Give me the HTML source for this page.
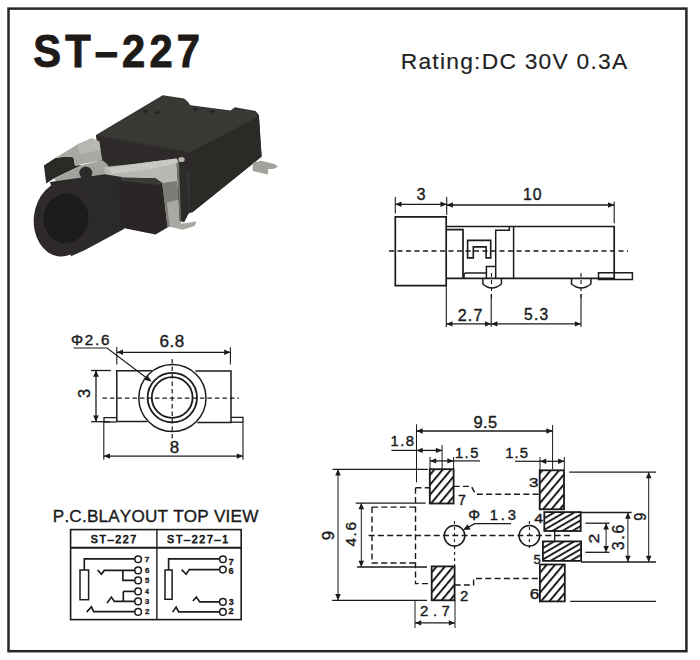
<!DOCTYPE html>
<html><head><meta charset="utf-8"><title>ST-227</title>
<style>
html,body{margin:0;padding:0;background:#fff;width:700px;height:660px;overflow:hidden}
svg{display:block;position:absolute;left:0;top:0}
text{font-family:"Liberation Sans",sans-serif;font-kerning:none;white-space:pre}
</style></head><body>
<svg width="700" height="660" viewBox="0 0 700 660">
<defs>
<filter id="soft" x="-5%" y="-5%" width="110%" height="110%"><feGaussianBlur stdDeviation="0.7"/></filter>
<pattern id="hatch" patternUnits="userSpaceOnUse" width="6.4" height="6.4" patternTransform="rotate(-50)">
<rect x="0" y="0" width="6.4" height="2" fill="#1b1b1b"/>
</pattern>
<pattern id="hatch2" patternUnits="userSpaceOnUse" width="5" height="5" patternTransform="rotate(-30)">
<rect x="0" y="0" width="5" height="1.9" fill="#1b1b1b"/>
</pattern>
</defs>
<rect x="8.5" y="8.6" width="677.9" height="642.6" fill="none" stroke="#2a2624" stroke-width="2.5"/>
<text transform="translate(33.3,66.5) scale(0.9000,1)" x="0" y="0" font-size="46.26" font-weight="bold" letter-spacing="4.62" fill="#1e1a18" stroke="#1e1a18" stroke-width="1.0" >ST–227</text>
<text transform="translate(400.73,69.1) scale(1.0000,1)" x="0" y="0" font-size="22.82" font-weight="normal" letter-spacing="1.24" fill="#222" stroke="#222" stroke-width="0.15" >Rating:DC 30V 0.3A</text>
<g filter="url(#soft)">
<polygon points="96,135 162.7,95.3 184,98.6 188,102 190.3,105.2 230.6,110.5 234.9,107.3 255.5,110.9 258.9,115 261.6,156.6 192.4,212.3 186,214 182,175 130,175 100,165" fill="#333130" />
<polygon points="190,153 258.9,117 261.6,156.6 192.4,212.3 190,212" fill="#2b2928" />
<polygon points="96,136 190,153 190,172 103,163" fill="#2e2c2b" />
<polygon points="98,135 162.7,96.3 184,99.6 190.3,106.2 230.6,111.5 234.9,108.3 255,111.9 257.5,116.5 190,152" fill="#393736" />
<polygon points="143,111 147,110 148,112 144,113" fill="#222020" />
<polygon points="155,112 159,111 160,113 156,114" fill="#222020" />
<polygon points="193,109 197,108 198,110 194,111" fill="#222020" />
<polygon points="210,111 214,110 215,112 211,113" fill="#222020" />
<polygon points="43.9,165.6 55.3,158 66,156.5 73.5,157.3 75,165.6 82,165 53.8,178.5 46.2,183.5" fill="#2b2928" />
<polygon points="55.3,158 77.3,144.4 91.7,138.3 99.2,141.4 102.3,160.3 75,165.6 73.5,157.3 66,156.5" fill="#a9a9a4" />
<polygon points="77.3,144.4 91.7,138.3 99.2,141.4 100.5,150 80,154" fill="#b8b8b3" />
<polygon points="53.8,178.5 82,165 102.3,160.3 106,163 110,168 108,175 60,186" fill="#a3a39e" />
<polygon points="104,167 134.2,163.9 176.7,158.6 178.9,163.2 177,182 164.5,186 162.3,182.9 155.5,178.3 119.1,177.6 106,178" fill="#b9b9b4" />
<polygon points="108,168 134.2,163.9 176.7,158.6 178,163 150,169 112,174" fill="#c9c9c4" />
<polygon points="162.3,182.9 177,181 179.7,199.5 181.2,223.8 169.8,226.8 167.6,227.6" fill="#7d7d78" />
<polygon points="166.8,202.6 179.7,199.5 181.2,223.8 196.4,221.5 194.8,226.1 182.7,229.8 169.8,226.8" fill="#a9a9a4" />
<polygon points="50,182 104.8,174.3 122,177 124,229 85,250 71,256.3" fill="#2c2a2a" />
<ellipse cx="62.8" cy="219" rx="29" ry="37.6" transform="rotate(6 62.8 219)" fill="#2e2c2b"/>
<ellipse cx="66" cy="218.5" rx="22.5" ry="25" transform="rotate(6 66 218.5)" fill="#1b1a1a"/>
<ellipse cx="85.8" cy="172.8" rx="6.5" ry="6.2" fill="#2c2a29"/>
<polygon points="119.1,177.6 155.5,178.3 162.3,182.9 167.6,227.6 155.5,234.4 120.6,227.6" fill="#2a2827" />
<polygon points="119.1,177.6 155.5,178.3 162.3,182.9 160,185 122,181" fill="#3a3837" />
<polygon points="176.7,163.2 185,158.6 188.8,213.2 184.2,222.3 179.7,220.8" fill="#2d2b2a" />
<polygon points="176.7,163.2 179,162 181,220 179.7,220.8" fill="#6e6e6a" />
<ellipse cx="181.5" cy="159.5" rx="3.2" ry="2.6" fill="#b5b5b0"/>
<polygon points="252.7,162.8 260.9,160.7 274.6,164.1 278,166.8 273.2,168.9 268.4,168.9 267.7,174.4 252.7,170.9" fill="#a3a39e" />
</g>
<path d="M395.3,285.6 V216.9 H446.2 V285.6 Z" fill="none" stroke="#1b1b1b" stroke-width="1.7" />
<path d="M446.2,226.5 H614.2 V278.4 H446.2" fill="none" stroke="#1b1b1b" stroke-width="1.7" />
<path d="M446.2,229.7 H463 V278.2" fill="none" stroke="#1b1b1b" stroke-width="1.7" />
<line x1="513.6" y1="226.5" x2="513.6" y2="278.4" stroke="#1b1b1b" stroke-width="1.5"/>
<path d="M495.7,278.4 V230.3 H509.3 V226.5" fill="none" stroke="#1b1b1b" stroke-width="1.5" />
<path d="M486.4,278.4 V266.4 H495.7" fill="none" stroke="#1b1b1b" stroke-width="1.5" />
<path d="M486.4,272.9 H466 Q464,272.9 464,275 V278.4" fill="none" stroke="#1b1b1b" stroke-width="1.5" />
<path d="M467.6,257.9 V240.4 H490.7 V257.9 H486.1 V246.9 H473.3 V257.9 Z" fill="none" stroke="#1b1b1b" stroke-width="1.6" />
<path d="M598.5,279.6 V272.7 H632.4 V279.6 Z" fill="none" stroke="#1b1b1b" stroke-width="1.5" />
<path d="M482.9,278.4 V284 Q491.7,292 501.4,284 V278.4" fill="none" stroke="#1b1b1b" stroke-width="1.5" />
<path d="M571.5,278.4 V284 Q581,292 590.9,284 V278.4" fill="none" stroke="#1b1b1b" stroke-width="1.5" />
<line x1="389" y1="251" x2="628" y2="251" stroke="#1b1b1b" stroke-width="1.5" stroke-dasharray="5,3.5"/>
<line x1="491.5" y1="273" x2="491.5" y2="300" stroke="#1b1b1b" stroke-width="1.1" stroke-dasharray="4,3"/>
<line x1="581" y1="273" x2="581" y2="300" stroke="#1b1b1b" stroke-width="1.1" stroke-dasharray="4,3"/>
<line x1="395.3" y1="197" x2="395.3" y2="213.6" stroke="#1b1b1b" stroke-width="1.1"/>
<line x1="446.7" y1="197" x2="446.7" y2="215" stroke="#1b1b1b" stroke-width="1.1"/>
<line x1="614.2" y1="201.5" x2="614.2" y2="223.3" stroke="#1b1b1b" stroke-width="1.1"/>
<line x1="395.3" y1="204.3" x2="446.7" y2="204.3" stroke="#1b1b1b" stroke-width="1.3"/>
<polygon points="395.3,204.3 401.5,201.6 401.5,207" fill="#1b1b1b"/>
<polygon points="446.7,204.3 440.5,201.6 440.5,207" fill="#1b1b1b"/>
<line x1="446.7" y1="205" x2="614.2" y2="205" stroke="#1b1b1b" stroke-width="1.3"/>
<polygon points="446.7,205 452.9,202.3 452.9,207.7" fill="#1b1b1b"/>
<polygon points="614.2,205 608,202.3 608,207.7" fill="#1b1b1b"/>
<text transform="translate(416.8,199.5) scale(1.0000,1)" x="0" y="0" font-size="15.75" font-weight="normal" letter-spacing="0" fill="#1b1b1b" stroke="#1b1b1b" stroke-width="0.4" >3</text>
<text transform="translate(523.1,199.5) scale(1.0000,1)" x="0" y="0" font-size="15.75" font-weight="normal" letter-spacing="0.79" fill="#1b1b1b" stroke="#1b1b1b" stroke-width="0.4" >10</text>
<line x1="446.3" y1="285.6" x2="446.3" y2="327" stroke="#1b1b1b" stroke-width="1.1"/>
<line x1="491.2" y1="294" x2="491.2" y2="327" stroke="#1b1b1b" stroke-width="1.1"/>
<line x1="581" y1="294" x2="581" y2="327" stroke="#1b1b1b" stroke-width="1.1"/>
<line x1="446.3" y1="323.9" x2="491.2" y2="323.9" stroke="#1b1b1b" stroke-width="1.3"/>
<polygon points="446.3,323.9 452.5,321.2 452.5,326.6" fill="#1b1b1b"/>
<polygon points="491.2,323.9 485,321.2 485,326.6" fill="#1b1b1b"/>
<line x1="491.2" y1="323.9" x2="581" y2="323.9" stroke="#1b1b1b" stroke-width="1.3"/>
<polygon points="491.2,323.9 497.4,321.2 497.4,326.6" fill="#1b1b1b"/>
<polygon points="581,323.9 574.8,321.2 574.8,326.6" fill="#1b1b1b"/>
<text transform="translate(457.69,320.5) scale(1.0000,1)" x="0" y="0" font-size="16.04" font-weight="normal" letter-spacing="1.26" fill="#1b1b1b" stroke="#1b1b1b" stroke-width="0.4" >2.7</text>
<text transform="translate(524.07,319.6) scale(1.0000,1)" x="0" y="0" font-size="15.61" font-weight="normal" letter-spacing="1.16" fill="#1b1b1b" stroke="#1b1b1b" stroke-width="0.4" >5.3</text>
<path d="M116.8,421.5 V370.8 H151.8" fill="none" stroke="#1b1b1b" stroke-width="1.5" />
<path d="M195.4,371.1 H231 V422.6 H197.3" fill="none" stroke="#1b1b1b" stroke-width="1.5" />
<line x1="116.8" y1="421.5" x2="147" y2="421.5" stroke="#1b1b1b" stroke-width="1.5"/>
<path d="M104,422 V417.7 H116.8" fill="none" stroke="#1b1b1b" stroke-width="1.3" />
<line x1="104" y1="422" x2="116.8" y2="422" stroke="#1b1b1b" stroke-width="1.3"/>
<path d="M243,422.2 V417.3 H231" fill="none" stroke="#1b1b1b" stroke-width="1.3" />
<line x1="231" y1="422.2" x2="243" y2="422.2" stroke="#1b1b1b" stroke-width="1.3"/>
<circle cx="172.4" cy="398" r="33.6" fill="none" stroke="#1b1b1b" stroke-width="1.5"/>
<circle cx="172.3" cy="397.6" r="24.7" fill="none" stroke="#1b1b1b" stroke-width="1.8"/>
<circle cx="172.2" cy="397.5" r="20.4" fill="none" stroke="#1b1b1b" stroke-width="1.8"/>
<line x1="102.4" y1="398.2" x2="239" y2="398.2" stroke="#1b1b1b" stroke-width="1.2" stroke-dasharray="4.5,3"/>
<line x1="172.2" y1="359" x2="172.2" y2="440" stroke="#1b1b1b" stroke-width="1.2" stroke-dasharray="4.5,3"/>
<path d="M73.6,348 H107 L150,380.5" fill="none" stroke="#1b1b1b" stroke-width="1.2" />
<polygon points="151.7,381.8 144.55,379.65 147.68,375.5" fill="#1b1b1b"/>
<text transform="translate(70.93,345.1) scale(1.0000,1)" x="0" y="0" font-size="15.18" font-weight="normal" letter-spacing="1.77" fill="#1b1b1b" stroke="#1b1b1b" stroke-width="0.4" >Φ2.6</text>
<line x1="116.8" y1="347" x2="116.8" y2="364.4" stroke="#1b1b1b" stroke-width="1.1"/>
<line x1="230.4" y1="347.3" x2="230.4" y2="364.5" stroke="#1b1b1b" stroke-width="1.1"/>
<line x1="116.8" y1="352.3" x2="230.4" y2="352.3" stroke="#1b1b1b" stroke-width="1.3"/>
<polygon points="116.8,352.3 123,349.6 123,355" fill="#1b1b1b"/>
<polygon points="230.4,352.3 224.2,349.6 224.2,355" fill="#1b1b1b"/>
<text transform="translate(159.43,346.8) scale(1.0000,1)" x="0" y="0" font-size="17.04" font-weight="normal" letter-spacing="0.51" fill="#1b1b1b" stroke="#1b1b1b" stroke-width="0.4" >6.8</text>
<line x1="91" y1="370.5" x2="110.8" y2="370.5" stroke="#1b1b1b" stroke-width="1.3"/>
<line x1="91" y1="421.7" x2="110" y2="421.7" stroke="#1b1b1b" stroke-width="1.3"/>
<line x1="96" y1="370.5" x2="96" y2="421.7" stroke="#1b1b1b" stroke-width="1.3"/>
<polygon points="96,370.5 93.2,376.7 98.8,376.7" fill="#1b1b1b"/>
<polygon points="96,421.7 93.2,415.5 98.8,415.5" fill="#1b1b1b"/>
<text transform="translate(89.7,397.93) rotate(-90) scale(1.0349,1)" x="0" y="0" font-size="15.9" font-weight="normal" letter-spacing="0" fill="#1b1b1b" stroke="#1b1b1b" stroke-width="0.4" >3</text>
<line x1="103.8" y1="422" x2="103.8" y2="459.8" stroke="#1b1b1b" stroke-width="1.1"/>
<line x1="243" y1="422" x2="243" y2="459.8" stroke="#1b1b1b" stroke-width="1.1"/>
<line x1="103.8" y1="456.1" x2="243" y2="456.1" stroke="#1b1b1b" stroke-width="1.3"/>
<polygon points="103.8,456.1 110,453.4 110,458.8" fill="#1b1b1b"/>
<polygon points="243,456.1 236.8,453.4 236.8,458.8" fill="#1b1b1b"/>
<text transform="translate(169.67,453) scale(1.0000,1)" x="0" y="0" font-size="16.9" font-weight="normal" letter-spacing="0" fill="#1b1b1b" stroke="#1b1b1b" stroke-width="0.4" >8</text>
<text transform="translate(52.79,521.6) scale(1.0000,1)" x="0" y="0" font-size="17.15" font-weight="normal" letter-spacing="0.19" fill="#1b1b1b" stroke="#1b1b1b" stroke-width="0.35" >P.C.BLAYOUT TOP VIEW</text>
<rect x="70.6" y="529.6" width="170.6" height="90" fill="none" stroke="#1b1b1b" stroke-width="1.6"/>
<line x1="70.6" y1="547.7" x2="241.2" y2="547.7" stroke="#1b1b1b" stroke-width="2.0"/>
<line x1="156.9" y1="529.6" x2="156.9" y2="619.6" stroke="#1b1b1b" stroke-width="1.4"/>
<text transform="translate(90.82,543.4) scale(1.0000,1)" x="0" y="0" font-size="10.6" font-weight="normal" letter-spacing="1.64" fill="#1b1b1b" stroke="#1b1b1b" stroke-width="0.75" >ST–227</text>
<text transform="translate(167.12,543.4) scale(1.0000,1)" x="0" y="0" font-size="10.6" font-weight="normal" letter-spacing="1.73" fill="#1b1b1b" stroke="#1b1b1b" stroke-width="0.75" >ST–227–1</text>
<rect x="80" y="570" width="8.6" height="29.7" fill="none" stroke="#1b1b1b" stroke-width="1.5"/>
<path d="M84.3,570 V558.8 H135" fill="none" stroke="#1b1b1b" stroke-width="1.65" />
<path d="M97.6,570 L101.4,574.3 L104.3,570.4 H135" fill="none" stroke="#1b1b1b" stroke-width="1.65" />
<path d="M122.9,570.4 V580.4 H135" fill="none" stroke="#1b1b1b" stroke-width="1.65" />
<path d="M123.3,591.4 V601.4" fill="none" stroke="#1b1b1b" stroke-width="1.65" />
<path d="M123.3,591.4 H135" fill="none" stroke="#1b1b1b" stroke-width="1.65" />
<path d="M107.1,602.9 L111.4,597.1 L114.3,601.4 H135" fill="none" stroke="#1b1b1b" stroke-width="1.65" />
<path d="M86.7,612.1 L91.4,606.7 L93.6,611.6 H135" fill="none" stroke="#1b1b1b" stroke-width="1.65" />
<circle cx="138.1" cy="559.3" r="3.3" fill="#fff" stroke="#1b1b1b" stroke-width="1.5"/>
<text transform="translate(144.85,561.8) scale(1.1143,1)" x="0" y="0" font-size="7.27" font-weight="bold" letter-spacing="0" fill="#1b1b1b" stroke="#1b1b1b" stroke-width="0.3" >7</text>
<circle cx="138.1" cy="570.4" r="3.3" fill="#fff" stroke="#1b1b1b" stroke-width="1.5"/>
<text transform="translate(144.91,572.9) scale(1.0978,1)" x="0" y="0" font-size="7.16" font-weight="bold" letter-spacing="0" fill="#1b1b1b" stroke="#1b1b1b" stroke-width="0.3" >6</text>
<circle cx="138.1" cy="580.4" r="3.3" fill="#fff" stroke="#1b1b1b" stroke-width="1.5"/>
<text transform="translate(144.97,582.9) scale(1.0509,1)" x="0" y="0" font-size="7.27" font-weight="bold" letter-spacing="0" fill="#1b1b1b" stroke="#1b1b1b" stroke-width="0.3" >5</text>
<circle cx="138.1" cy="591.4" r="3.3" fill="#fff" stroke="#1b1b1b" stroke-width="1.5"/>
<text transform="translate(145.09,593.9) scale(0.9762,1)" x="0" y="0" font-size="7.27" font-weight="bold" letter-spacing="0" fill="#1b1b1b" stroke="#1b1b1b" stroke-width="0.3" >4</text>
<circle cx="138.1" cy="601.4" r="3.3" fill="#fff" stroke="#1b1b1b" stroke-width="1.5"/>
<text transform="translate(145.02,603.9) scale(1.0676,1)" x="0" y="0" font-size="7.16" font-weight="bold" letter-spacing="0" fill="#1b1b1b" stroke="#1b1b1b" stroke-width="0.3" >3</text>
<circle cx="138.1" cy="611.9" r="3.3" fill="#fff" stroke="#1b1b1b" stroke-width="1.5"/>
<text transform="translate(144.93,614.4) scale(1.1022,1)" x="0" y="0" font-size="7.16" font-weight="bold" letter-spacing="0" fill="#1b1b1b" stroke="#1b1b1b" stroke-width="0.3" >2</text>
<rect x="165" y="570" width="7.1" height="29.3" fill="none" stroke="#1b1b1b" stroke-width="1.5"/>
<path d="M168.6,570 V558.8 H220" fill="none" stroke="#1b1b1b" stroke-width="1.65" />
<path d="M181.7,569.6 L186.1,574.3 L189.3,569.6 H220" fill="none" stroke="#1b1b1b" stroke-width="1.65" />
<path d="M192.9,601 L196.4,597.1 L199.7,601.9 H220" fill="none" stroke="#1b1b1b" stroke-width="1.65" />
<path d="M172.6,612.1 L176.1,607.1 L178.6,611.9 H220" fill="none" stroke="#1b1b1b" stroke-width="1.65" />
<circle cx="222.9" cy="559.3" r="3.3" fill="#fff" stroke="#1b1b1b" stroke-width="1.5"/>
<text transform="translate(228.5,564.6) scale(1.0240,1)" x="0" y="0" font-size="9.16" font-weight="bold" letter-spacing="0" fill="#1b1b1b" stroke="#1b1b1b" stroke-width="0.3" >7</text>
<circle cx="222.9" cy="569.6" r="3.3" fill="#fff" stroke="#1b1b1b" stroke-width="1.5"/>
<text transform="translate(228.57,574.1) scale(1.0088,1)" x="0" y="0" font-size="9.02" font-weight="bold" letter-spacing="0" fill="#1b1b1b" stroke="#1b1b1b" stroke-width="0.3" >6</text>
<circle cx="222.9" cy="601.9" r="3.3" fill="#fff" stroke="#1b1b1b" stroke-width="1.5"/>
<text transform="translate(228.7,604.9) scale(0.9811,1)" x="0" y="0" font-size="9.02" font-weight="bold" letter-spacing="0" fill="#1b1b1b" stroke="#1b1b1b" stroke-width="0.3" >3</text>
<circle cx="222.9" cy="611.9" r="3.3" fill="#fff" stroke="#1b1b1b" stroke-width="1.5"/>
<text transform="translate(228.58,613.9) scale(1.1195,1)" x="0" y="0" font-size="8.16" font-weight="bold" letter-spacing="0" fill="#1b1b1b" stroke="#1b1b1b" stroke-width="0.3" >2</text>
<rect x="429.8" y="469.2" width="23.8" height="34.3" fill="url(#hatch)" stroke="#1b1b1b" stroke-width="1.8"/>
<rect x="431.7" y="566.4" width="22.9" height="33.9" fill="url(#hatch)" stroke="#1b1b1b" stroke-width="1.8"/>
<rect x="539.7" y="470.3" width="24.3" height="39" fill="url(#hatch)" stroke="#1b1b1b" stroke-width="1.8"/>
<rect x="544.3" y="512.1" width="36.4" height="18.9" fill="url(#hatch2)" stroke="#1b1b1b" stroke-width="1.8"/>
<rect x="542.9" y="541.4" width="38.2" height="19.5" fill="url(#hatch2)" stroke="#1b1b1b" stroke-width="1.8"/>
<rect x="539.9" y="564.5" width="24.9" height="36.9" fill="url(#hatch)" stroke="#1b1b1b" stroke-width="1.8"/>
<circle cx="454.5" cy="535.7" r="10.3" fill="none" stroke="#1b1b1b" stroke-width="1.5"/>
<line x1="454.5" y1="521" x2="454.5" y2="550" stroke="#1b1b1b" stroke-width="1.1" stroke-dasharray="3,3"/>
<circle cx="529.4" cy="535.7" r="10.3" fill="none" stroke="#1b1b1b" stroke-width="1.5"/>
<line x1="529.4" y1="521" x2="529.4" y2="550" stroke="#1b1b1b" stroke-width="1.1" stroke-dasharray="3,3"/>
<line x1="368.6" y1="535.5" x2="570" y2="535.5" stroke="#1b1b1b" stroke-width="1.4" stroke-dasharray="6,3.3"/>
<path d="M372,507.1 H415.5 M372,507.1 V563 H415.5" fill="none" stroke="#1b1b1b" stroke-width="1.4" stroke-dasharray="6,3.3" />
<path d="M415.5,487.8 H429.8" fill="none" stroke="#1b1b1b" stroke-width="1.4" stroke-dasharray="6,3.3" />
<path d="M415.5,487.8 V583.6 H431.7" fill="none" stroke="#1b1b1b" stroke-width="1.4" stroke-dasharray="6,3.3" />
<path d="M453.6,486.4 H471.4 L475.7,494.3 H539.7" fill="none" stroke="#1b1b1b" stroke-width="1.4" stroke-dasharray="6,3.3" />
<path d="M454.6,585 H473.6 V578.5 H539.9" fill="none" stroke="#1b1b1b" stroke-width="1.4" stroke-dasharray="6,3.3" />
<line x1="454.6" y1="546" x2="454.6" y2="566.4" stroke="#1b1b1b" stroke-width="1.1" stroke-dasharray="3,3"/>
<line x1="332.6" y1="469.3" x2="427.9" y2="469.3" stroke="#1b1b1b" stroke-width="1.3"/>
<line x1="355.7" y1="503.1" x2="425.7" y2="503.1" stroke="#1b1b1b" stroke-width="1.3"/>
<line x1="357.1" y1="567" x2="427" y2="567" stroke="#1b1b1b" stroke-width="1.3"/>
<line x1="332.1" y1="600.3" x2="427" y2="600.3" stroke="#1b1b1b" stroke-width="1.3"/>
<line x1="416.5" y1="424.3" x2="416.5" y2="482.3" stroke="#1b1b1b" stroke-width="1.0"/>
<line x1="442.1" y1="445" x2="442.1" y2="469" stroke="#1b1b1b" stroke-width="1.0"/>
<line x1="430" y1="457" x2="430" y2="469" stroke="#1b1b1b" stroke-width="1.0"/>
<line x1="453.6" y1="457" x2="453.6" y2="469" stroke="#1b1b1b" stroke-width="1.0"/>
<line x1="552.6" y1="425" x2="552.6" y2="469.3" stroke="#1b1b1b" stroke-width="1.0"/>
<line x1="540" y1="457" x2="540" y2="470" stroke="#1b1b1b" stroke-width="1.0"/>
<line x1="564.3" y1="457" x2="564.3" y2="470" stroke="#1b1b1b" stroke-width="1.0"/>
<line x1="569.3" y1="472.1" x2="656" y2="472.1" stroke="#1b1b1b" stroke-width="1.3"/>
<line x1="580.7" y1="512.5" x2="631.6" y2="512.5" stroke="#1b1b1b" stroke-width="1.3"/>
<line x1="581.1" y1="562" x2="656" y2="562" stroke="#1b1b1b" stroke-width="1.3"/>
<line x1="570.3" y1="601.3" x2="656" y2="601.3" stroke="#1b1b1b" stroke-width="1.3"/>
<line x1="585.4" y1="523.2" x2="609.5" y2="523.2" stroke="#1b1b1b" stroke-width="1.3"/>
<line x1="585.4" y1="552.3" x2="609.5" y2="552.3" stroke="#1b1b1b" stroke-width="1.3"/>
<line x1="415" y1="600.3" x2="415" y2="628" stroke="#1b1b1b" stroke-width="1.0"/>
<line x1="455" y1="600.3" x2="455" y2="628" stroke="#1b1b1b" stroke-width="1.0"/>
<line x1="338" y1="469.3" x2="338" y2="600.3" stroke="#1b1b1b" stroke-width="1.0"/>
<polygon points="338,469.3 335.2,475.5 340.8,475.5" fill="#1b1b1b"/>
<polygon points="338,600.3 335.2,594.1 340.8,594.1" fill="#1b1b1b"/>
<line x1="361.3" y1="503.1" x2="361.3" y2="567" stroke="#1b1b1b" stroke-width="1.0"/>
<polygon points="361.3,503.1 358.5,509.3 364.1,509.3" fill="#1b1b1b"/>
<polygon points="361.3,567 358.5,560.8 364.1,560.8" fill="#1b1b1b"/>
<line x1="416.5" y1="431" x2="552.6" y2="431" stroke="#1b1b1b" stroke-width="1.3"/>
<polygon points="416.5,431 422.7,428.3 422.7,433.7" fill="#1b1b1b"/>
<polygon points="552.6,431 546.4,428.3 546.4,433.7" fill="#1b1b1b"/>
<line x1="391.4" y1="450.4" x2="416.5" y2="450.4" stroke="#1b1b1b" stroke-width="1.2"/>
<line x1="416.5" y1="450.4" x2="442.1" y2="450.4" stroke="#1b1b1b" stroke-width="1.3"/>
<polygon points="416.5,450.4 422.7,447.7 422.7,453.1" fill="#1b1b1b"/>
<polygon points="442.1,450.4 435.9,447.7 435.9,453.1" fill="#1b1b1b"/>
<line x1="430" y1="460.9" x2="453.6" y2="460.9" stroke="#1b1b1b" stroke-width="1.3"/>
<polygon points="430,460.9 436.2,458.2 436.2,463.6" fill="#1b1b1b"/>
<polygon points="453.6,460.9 447.4,458.2 447.4,463.6" fill="#1b1b1b"/>
<line x1="453.6" y1="460.9" x2="480" y2="460.9" stroke="#1b1b1b" stroke-width="1.2"/>
<line x1="515" y1="461.3" x2="540" y2="461.3" stroke="#1b1b1b" stroke-width="1.2"/>
<line x1="540" y1="461.3" x2="564.3" y2="461.3" stroke="#1b1b1b" stroke-width="1.3"/>
<polygon points="540,461.3 546.2,458.6 546.2,464" fill="#1b1b1b"/>
<polygon points="564.3,461.3 558.1,458.6 558.1,464" fill="#1b1b1b"/>
<line x1="648.7" y1="472.1" x2="648.7" y2="562" stroke="#1b1b1b" stroke-width="1.0"/>
<polygon points="648.7,472.1 645.9,478.3 651.5,478.3" fill="#1b1b1b"/>
<polygon points="648.7,562 645.9,555.8 651.5,555.8" fill="#1b1b1b"/>
<line x1="627.9" y1="512.5" x2="627.9" y2="562" stroke="#1b1b1b" stroke-width="1.0"/>
<polygon points="627.9,512.5 625.1,518.7 630.7,518.7" fill="#1b1b1b"/>
<polygon points="627.9,562 625.1,555.8 630.7,555.8" fill="#1b1b1b"/>
<line x1="606.1" y1="523.2" x2="606.1" y2="552.3" stroke="#1b1b1b" stroke-width="1.0"/>
<polygon points="606.1,523.2 603.3,529.4 608.9,529.4" fill="#1b1b1b"/>
<polygon points="606.1,552.3 603.3,546.1 608.9,546.1" fill="#1b1b1b"/>
<line x1="415" y1="622.9" x2="455" y2="622.9" stroke="#1b1b1b" stroke-width="1.3"/>
<polygon points="415,622.9 421.2,620.2 421.2,625.6" fill="#1b1b1b"/>
<polygon points="455,622.9 448.8,620.2 448.8,625.6" fill="#1b1b1b"/>
<text transform="translate(473.43,427.8) scale(1.0000,1)" x="0" y="0" font-size="16.47" font-weight="normal" letter-spacing="0.38" fill="#1b1b1b" stroke="#1b1b1b" stroke-width="0.4" >9.5</text>
<text transform="translate(390.48,446) scale(1.0000,1)" x="0" y="0" font-size="14.75" font-weight="normal" letter-spacing="1.48" fill="#1b1b1b" stroke="#1b1b1b" stroke-width="0.4" >1.8</text>
<text transform="translate(454.88,458.4) scale(1.0000,1)" x="0" y="0" font-size="14.68" font-weight="normal" letter-spacing="1.51" fill="#1b1b1b" stroke="#1b1b1b" stroke-width="0.4" >1.5</text>
<text transform="translate(505.17,458.1) scale(1.0000,1)" x="0" y="0" font-size="14.83" font-weight="normal" letter-spacing="1.12" fill="#1b1b1b" stroke="#1b1b1b" stroke-width="0.4" >1.5</text>
<text transform="translate(468.16,519.8) scale(1.0000,1)" x="0" y="0" font-size="14.75" font-weight="normal" letter-spacing="2.85" fill="#1b1b1b" stroke="#1b1b1b" stroke-width="0.4" >Φ 1.3</text>
<path d="M511,523.6 H474.6 L467,528" fill="none" stroke="#1b1b1b" stroke-width="1.3" />
<polygon points="463,530 467.6,524.3 470.6,529.6" fill="#1b1b1b"/>
<text transform="translate(457.98,505.1) scale(1.0000,1)" x="0" y="0" font-size="14.1" font-weight="normal" letter-spacing="0" fill="#1b1b1b" stroke="#1b1b1b" stroke-width="0.4" >7</text>
<text transform="translate(460.05,601.2) scale(1.0000,1)" x="0" y="0" font-size="14.89" font-weight="normal" letter-spacing="0" fill="#1b1b1b" stroke="#1b1b1b" stroke-width="0.4" >2</text>
<text transform="translate(528.96,486.8) scale(1.3700,1)" x="0" y="0" font-size="12.32" font-weight="normal" letter-spacing="0" fill="#1b1b1b" stroke="#1b1b1b" stroke-width="0.4" >3</text>
<text transform="translate(534.24,522.7) scale(1.3003,1)" x="0" y="0" font-size="12.21" font-weight="normal" letter-spacing="0" fill="#1b1b1b" stroke="#1b1b1b" stroke-width="0.4" >4</text>
<text transform="translate(533.58,564.3) scale(1.0109,1)" x="0" y="0" font-size="12.94" font-weight="normal" letter-spacing="0" fill="#1b1b1b" stroke="#1b1b1b" stroke-width="0.4" >5</text>
<text transform="translate(529.72,599.4) scale(1.1529,1)" x="0" y="0" font-size="15.04" font-weight="normal" letter-spacing="0" fill="#1b1b1b" stroke="#1b1b1b" stroke-width="0.4" >6</text>
<text transform="translate(420.04,616) scale(1.0000,1)" x="0" y="0" font-size="15.04" font-weight="normal" letter-spacing="4.5" fill="#1b1b1b" stroke="#1b1b1b" stroke-width="0.4" >2.7</text>
<text transform="translate(334.1,540.18) rotate(-90) scale(1.0121,1)" x="0" y="0" font-size="16.47" font-weight="normal" letter-spacing="0" fill="#1b1b1b" stroke="#1b1b1b" stroke-width="0.4" >9</text>
<text transform="translate(356.1,546.55) rotate(-90) scale(1.0000,1)" x="0" y="0" font-size="15.47" font-weight="normal" letter-spacing="1.57" fill="#1b1b1b" stroke="#1b1b1b" stroke-width="0.4" >4.6</text>
<text transform="translate(645.7,520.87) rotate(-90) scale(0.8752,1)" x="0" y="0" font-size="16.33" font-weight="normal" letter-spacing="0" fill="#1b1b1b" stroke="#1b1b1b" stroke-width="0.4" >9</text>
<text transform="translate(623.9,550.31) rotate(-90) scale(1.0000,1)" x="0" y="0" font-size="15.9" font-weight="normal" letter-spacing="1.8" fill="#1b1b1b" stroke="#1b1b1b" stroke-width="0.4" >3.6</text>
<text transform="translate(599.2,543.59) rotate(-90) scale(1.1603,1)" x="0" y="0" font-size="15.32" font-weight="normal" letter-spacing="0" fill="#1b1b1b" stroke="#1b1b1b" stroke-width="0.4" >2</text>
<line x1="554.7" y1="530" x2="554.7" y2="542" stroke="#1b1b1b" stroke-width="1.3"/>
</svg>
</body></html>
